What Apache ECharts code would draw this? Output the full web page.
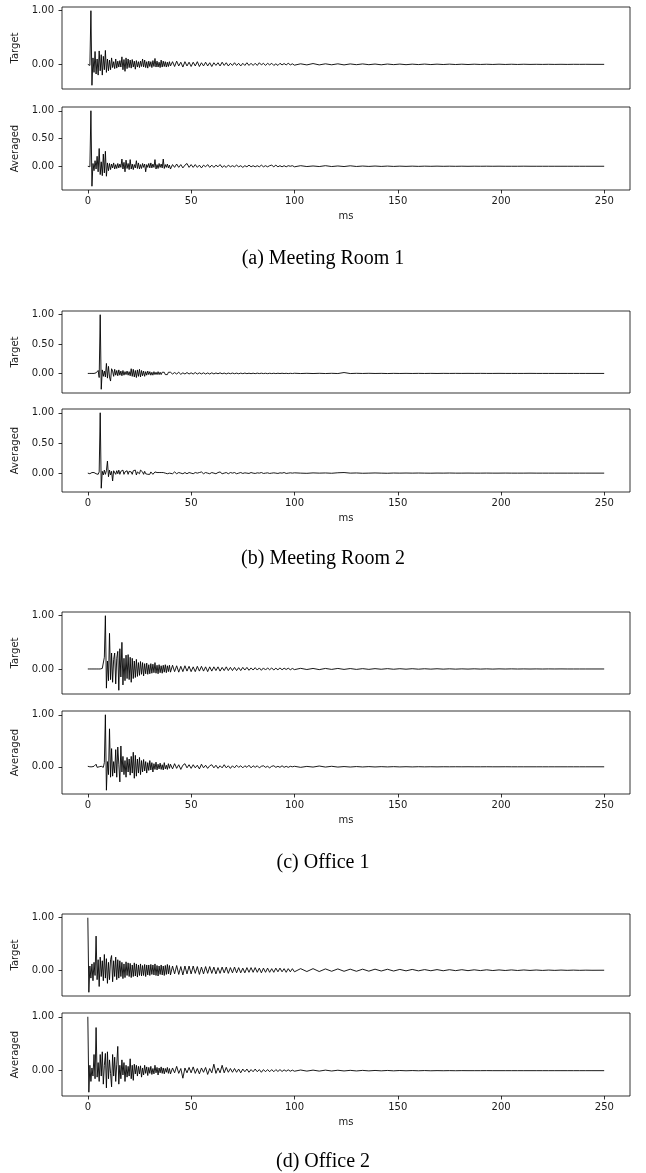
<!DOCTYPE html>
<html>
<head>
<meta charset="utf-8">
<script src="https://cdn.jsdelivr.net/npm/echarts@6/dist/echarts.min.js"></script>
<style>
  html, body { margin: 0; padding: 0; background: #fff; }
  #chart { width: 646px; height: 1173px; }
</style>
</head>
<body>
<div id="chart"></div>
<script>
// sample times (ms) - dense near the onset, sparse in the tail
const timeMs = [
  0, 0.5, 1, 1.5, 2, 2.5, 3, 3.5, 4, 4.5,
  5, 5.5, 6, 6.5, 7, 7.5, 8, 8.5, 9, 9.5,
  10, 10.5, 11, 11.5, 12, 12.5, 13, 13.5, 14, 14.5,
  15, 15.5, 16, 16.5, 17, 17.5, 18, 18.5, 19, 19.5,
  20, 20.5, 21, 21.5, 22, 22.5, 23, 23.5, 24, 24.5,
  25, 25.5, 26, 26.5, 27, 27.5, 28, 28.5, 29, 29.5,
  30, 30.5, 31, 31.5, 32, 32.5, 33, 33.5, 34, 34.5,
  35, 35.5, 36, 36.5, 37, 37.5, 38, 38.5, 39, 39.5,
  40, 41, 42, 43, 44, 45, 46, 47, 48, 49,
  50, 51, 52, 53, 54, 55, 56, 57, 58, 59,
  60, 61, 62, 63, 64, 65, 66, 67, 68, 69,
  70, 71, 72, 73, 74, 75, 76, 77, 78, 79,
  80, 81, 82, 83, 84, 85, 86, 87, 88, 89,
  90, 91, 92, 93, 94, 95, 96, 97, 98, 99,
  100, 103, 106, 109, 112, 115, 118, 121, 124, 127,
  130, 133, 136, 139, 142, 145, 148, 151, 154, 157,
  160, 163, 166, 169, 172, 175, 178, 181, 184, 187,
  190, 193, 196, 199, 202, 205, 208, 211, 214, 217,
  220, 223, 226, 229, 232, 235, 238, 241, 244, 249.9
];

const mr1Target = [
  0, 0.01, -0.02, 1.0, -0.39, 0.12, -0.15, 0.24, -0.18, 0.1,
  -0.2, 0.25, -0.12, 0.18, -0.2, 0.15, -0.1, 0.26, -0.15, 0.1,
  -0.12, 0.08, -0.1, 0.12, -0.06, 0.05, -0.08, 0.1, -0.07, 0.06,
  -0.05, 0.07, -0.05, 0.14, -0.1, 0.09, -0.13, 0.12, -0.08, 0.1,
  -0.06, 0.08, -0.07, 0.09, -0.05, 0.06, -0.09, 0.07, -0.05, 0.05,
  -0.06, 0.06, -0.04, 0.1, -0.05, 0.08, -0.06, 0.05, -0.07, 0.06,
  -0.04, 0.05, -0.06, 0.07, -0.04, 0.11, -0.05, 0.06, -0.05, 0.04,
  -0.06, 0.08, -0.05, 0.06, -0.04, 0.05, -0.05, 0.04, -0.04, 0.05,
  -0.03, 0.05, -0.04, 0.06, -0.03, 0.04, -0.05, 0.05, -0.03, 0.04,
  -0.04, 0.04, -0.03, 0.05, -0.04, 0.03, -0.03, 0.04, -0.03, 0.03,
  -0.04, 0.03, -0.02, 0.03, -0.03, 0.04, -0.02, 0.03, -0.03, 0.02,
  -0.02, 0.03, -0.02, 0.02, -0.03, 0.02, -0.02, 0.03, -0.02, 0.02,
  -0.02, 0.02, -0.02, 0.03, -0.01, 0.02, -0.02, 0.02, -0.01, 0.02,
  -0.02, 0.01, -0.02, 0.02, -0.01, 0.015, -0.01, 0.02, -0.01, 0.01,
  -0.015, 0.01, -0.01, 0.015, -0.01, 0.01, -0.008, 0.01, -0.01, 0.008,
  -0.006, 0.008, -0.006, 0.006, -0.008, 0.006, -0.005, 0.005, -0.006, 0.004,
  -0.004, 0.005, -0.004, 0.004, -0.003, 0.004, -0.003, 0.003, -0.003, 0.003,
  -0.002, 0.002, -0.002, 0.003, -0.002, 0.002, -0.002, 0.002, -0.001, 0.001,
  -0.001, 0.001, -0.001, 0.001, -0.001, 0.001, 0, 0.001, 0, 0
];

const mr1Averaged = [
  0, 0.02, -0.01, 1.0, -0.36, 0.05, -0.08, 0.1, -0.05, 0.18,
  -0.1, 0.32, -0.15, 0.08, -0.17, 0.22, -0.12, 0.27, -0.18, 0.06,
  -0.08, 0.05, -0.06, 0.04, -0.03, 0.06, -0.05, 0.03, -0.04, 0.05,
  -0.03, 0.04, -0.02, 0.13, -0.05, 0.07, -0.1, 0.11, -0.04, 0.05,
  -0.06, 0.12, -0.05, 0.04, -0.06, 0.03, -0.03, 0.1, -0.04, 0.06,
  -0.05, 0.03, -0.04, 0.05, -0.02, 0.04, -0.1, 0.03, -0.02, 0.05,
  -0.03, 0.06, -0.03, 0.04, -0.02, 0.12, -0.05, 0.03, -0.04, 0.05,
  -0.02, 0.04, -0.03, 0.13, -0.04, 0.03, -0.02, 0.04, -0.03, 0.02,
  -0.05, 0.03, -0.02, 0.04, -0.02, 0.03, -0.03, 0.02, 0.05, -0.02,
  0.03, -0.02, 0.03, -0.02, 0.02, -0.03, 0.02, -0.01, 0.03, -0.02,
  0.02, -0.02, 0.02, -0.01, 0.03, -0.02, 0.01, -0.02, 0.02, -0.01,
  0.01, -0.01, 0.02, -0.01, 0.01, -0.02, 0.01, -0.01, 0.02, -0.01,
  0.01, -0.01, 0.01, -0.01, 0.02, -0.01, 0.01, -0.01, 0.01, 0.02,
  -0.01, 0.02, -0.01, 0.01, -0.01, 0.01, -0.01, 0.01, 0, 0.01,
  -0.01, 0.01, -0.005, 0.005, -0.005, 0.01, -0.005, 0.005, -0.005, 0.008,
  -0.004, 0.004, -0.003, 0.004, -0.003, 0.003, -0.003, 0.002, -0.002, 0.002,
  -0.002, 0.002, -0.001, 0.002, -0.001, 0.001, -0.001, 0.001, -0.001, 0.001,
  0, 0.001, 0, 0.001, 0, 0, 0, 0.001, 0, 0,
  0, 0, 0, 0, 0, 0, 0, 0, 0, 0
];

const mr2Target = [
  0, 0, 0, 0, 0, 0, 0, 0, 0.01, -0.01,
  0.05, -0.07, 1.0, -0.27, 0.06, -0.05, 0.04, -0.06, 0.17, -0.08,
  0.12, -0.06, -0.13, 0.08, 0.04, -0.05, 0.07, -0.03, 0.05, -0.04,
  0.06, -0.03, 0.04, -0.04, 0.05, -0.03, 0.03, -0.02, 0.04, -0.03,
  0.03, -0.04, 0.08, -0.05, 0.07, -0.06, 0.05, -0.07, 0.06, -0.05,
  0.07, -0.06, 0.05, -0.04, 0.04, -0.05, 0.03, -0.03, 0.04, -0.02,
  0.03, -0.03, 0.02, -0.03, 0.03, -0.02, 0.02, -0.02, 0.03, -0.02,
  0.02, -0.02, 0.02, -0.01, 0.02, -0.02, 0.01, -0.02, 0.02, -0.01,
  0.02, -0.01, 0.015, -0.01, 0.02, -0.015, 0.01, -0.01, 0.015, -0.01,
  0.01, -0.01, 0.015, -0.01, 0.01, -0.008, 0.01, -0.01, 0.008, -0.01,
  0.01, -0.008, 0.008, -0.006, 0.01, -0.006, 0.006, -0.008, 0.006, -0.005,
  0.006, -0.005, 0.005, -0.006, 0.005, -0.004, 0.006, -0.004, 0.004, -0.004,
  0.004, -0.004, 0.005, -0.003, 0.004, -0.003, 0.003, -0.004, 0.003, -0.003,
  0.003, -0.003, 0.003, -0.002, 0.003, -0.002, 0.002, -0.003, 0.002, -0.002,
  0.003, -0.002, 0.002, -0.002, 0.002, -0.002, 0.002, -0.002, 0.015, -0.002,
  0.002, -0.001, 0.002, -0.001, 0.001, -0.002, 0.001, -0.001, 0.001, -0.001,
  0.001, -0.001, 0.001, -0.001, 0.001, 0, 0.001, 0, 0.001, 0,
  0.001, 0, 0, 0.001, 0, 0, 0, 0, 0.001, 0,
  0, 0, 0, 0, 0, 0, 0, 0, 0, 0
];

const mr2Averaged = [
  0, 0.01, -0.01, 0, 0.01, -0.005, 0.01, 0, -0.01, 0.01,
  -0.02, 0.02, 1.0, -0.25, 0.03, -0.03, 0.05, -0.02, 0.04, 0.2,
  -0.06, 0.05, -0.03, 0.03, -0.13, 0.04, 0.06, -0.02, 0.04, -0.01,
  0.05, -0.02, 0.03, 0.01, 0.05, -0.02, 0.02, -0.01, 0.04, -0.02,
  0.03, 0.01, 0.02, -0.02, 0.04, 0.01, 0.05, -0.03, 0.02, 0.04,
  -0.01, 0.05, 0.07, 0.02, -0.02, 0.03, -0.01, 0.02, -0.02, 0.01,
  -0.02, 0.02, 0.01, -0.02, 0.01, 0.02, -0.01, 0.01, -0.02, 0.01,
  0, 0.01, -0.01, 0.01, -0.01, 0, 0.01, -0.01, 0.01, 0,
  0.01, -0.01, 0.02, -0.01, 0.01, 0, -0.01, 0.01, -0.01, 0.01,
  0, -0.01, 0.01, 0, 0.01, 0.02, -0.01, 0.01, 0, -0.01,
  0.01, 0, -0.01, 0.01, 0.02, -0.01, 0, 0.01, -0.01, 0.01,
  0, 0.01, -0.01, 0, 0.01, -0.005, 0.005, 0, -0.005, 0.01,
  0, -0.005, 0.005, 0, 0.01, -0.005, 0, 0.005, -0.005, 0,
  0.005, 0, -0.005, 0.005, 0, 0.01, -0.005, 0, 0.005, 0,
  0.005, 0, -0.003, 0.004, 0, 0.003, -0.002, 0.006, 0.01, 0,
  0.003, -0.002, 0, 0.003, 0, -0.002, 0.002, 0, 0.002, 0,
  0.002, 0, -0.001, 0.001, 0, 0.002, 0, 0, 0.001, 0,
  0, 0.001, 0, 0, 0.001, 0, 0, 0, 0.001, 0,
  0, 0, 0, 0, 0, 0, 0, 0, 0, 0
];

const off1Target = [
  0, 0, 0, 0, 0, 0, 0, 0, 0, 0,
  0, 0, 0, 0, 0.01, -0.02, 0.22, 1.0, -0.36, 0.15,
  -0.22, 0.67, -0.2, 0.3, -0.25, 0.18, 0.3, -0.28, 0.2, 0.33,
  -0.4, 0.38, -0.15, 0.5, -0.3, 0.2, -0.22, 0.26, -0.18, 0.27,
  -0.2, 0.22, -0.25, 0.2, -0.18, 0.15, -0.16, 0.18, -0.14, 0.12,
  -0.12, 0.14, -0.1, 0.12, -0.13, 0.1, -0.09, 0.11, -0.1, 0.08,
  -0.09, 0.1, -0.08, 0.09, -0.07, 0.12, -0.08, 0.07, -0.09, 0.08,
  -0.07, 0.06, -0.08, 0.07, -0.06, 0.08, -0.07, 0.06, -0.05, 0.07,
  -0.06, 0.07, -0.05, 0.06, -0.06, 0.05, -0.05, 0.06, -0.04, 0.05,
  -0.05, 0.04, -0.05, 0.05, -0.04, 0.05, -0.04, 0.04, -0.05, 0.04,
  -0.04, 0.04, -0.03, 0.04, -0.04, 0.03, -0.03, 0.04, -0.03, 0.03,
  -0.03, 0.03, -0.03, 0.025, -0.03, 0.03, -0.02, 0.03, -0.025, 0.02,
  -0.02, 0.025, -0.02, 0.02, -0.025, 0.02, -0.02, 0.02, -0.015, 0.02,
  -0.02, 0.015, -0.015, 0.02, -0.015, 0.015, -0.01, 0.015, -0.015, 0.01,
  -0.012, 0.012, -0.01, 0.01, -0.012, 0.01, -0.008, 0.01, -0.008, 0.008,
  -0.008, 0.006, -0.007, 0.006, -0.005, 0.006, -0.005, 0.005, -0.004, 0.005,
  -0.004, 0.004, -0.003, 0.004, -0.003, 0.003, -0.003, 0.002, -0.002, 0.003,
  -0.002, 0.002, -0.002, 0.002, -0.001, 0.002, -0.001, 0.001, -0.001, 0.001,
  -0.001, 0.001, 0, 0.001, 0, 0, 0, 0, 0, 0
];

const off1Averaged = [
  0.01, -0.01, 0, 0.01, 0, -0.01, 0.01, 0, 0.05, -0.01,
  0.01, 0, -0.01, 0.01, 0.02, -0.01, 0.08, 1.0, -0.45, 0.1,
  -0.15, 0.73, -0.2, 0.35, -0.18, 0.1, -0.12, 0.33, -0.2, 0.38,
  0.05, -0.29, 0.4, -0.1, 0.2, -0.15, 0.12, -0.2, 0.18, -0.1,
  0.15, -0.16, 0.2, -0.12, 0.28, -0.22, 0.22, -0.18, 0.15, -0.12,
  0.18, -0.15, 0.12, -0.1, 0.14, -0.08, 0.1, -0.12, 0.08, -0.07,
  0.12, -0.06, 0.08, -0.1, 0.06, -0.05, 0.09, -0.06, 0.05, -0.04,
  0.07, -0.05, 0.04, -0.06, 0.08, -0.04, 0.03, -0.05, 0.06, -0.03,
  0.05, -0.04, 0.06, -0.03, 0.04, -0.05, 0.03, 0.06, -0.02, 0.04,
  -0.03, 0.04, -0.02, 0.03, -0.04, 0.05, -0.02, 0.03, -0.03, 0.02,
  0.04, -0.02, 0.03, -0.03, 0.02, -0.02, 0.04, -0.02, 0.02, -0.03,
  0.02, -0.02, 0.03, -0.01, 0.02, -0.02, 0.02, -0.01, 0.03, -0.02,
  0.02, -0.01, 0.02, -0.02, 0.01, 0.02, -0.01, 0.01, -0.02, 0.01,
  0.02, -0.01, 0.01, -0.01, 0.02, -0.01, 0.01, -0.01, 0.01, 0,
  0.01, -0.01, 0.008, -0.005, 0.015, -0.005, 0.01, -0.005, 0.005, -0.004,
  0.005, -0.003, 0.004, -0.003, 0.003, -0.002, 0.003, -0.002, 0.002, -0.002,
  0.002, -0.001, 0.001, -0.001, 0.001, 0, 0.001, 0, 0.001, 0,
  0, 0.001, 0, 0, 0.001, 0, 0, 0, 0, 0,
  0, 0, 0, 0, 0, 0, 0, 0, 0, 0
];

const off2Target = [
  1.0, -0.42, 0.08, -0.15, 0.12, -0.2, 0.15, -0.1, 0.65, -0.18,
  0.2, -0.31, 0.25, -0.12, 0.18, -0.2, 0.3, -0.15, 0.22, -0.25,
  0.15, -0.18, 0.2, 0.28, -0.22, 0.18, -0.12, 0.25, -0.18, 0.2,
  -0.15, 0.18, -0.12, 0.15, -0.16, 0.12, -0.14, 0.16, -0.1, 0.14,
  -0.12, 0.13, -0.14, 0.1, -0.12, 0.14, -0.11, 0.12, -0.13, 0.1,
  -0.1, 0.12, -0.11, 0.09, -0.1, 0.11, -0.12, 0.1, -0.09, 0.1,
  -0.1, 0.11, -0.08, 0.1, -0.09, 0.12, -0.1, 0.09, -0.11, 0.08,
  -0.08, 0.1, -0.09, 0.08, -0.1, 0.09, -0.08, 0.11, -0.07, 0.09,
  -0.09, 0.08, -0.07, 0.09, -0.08, 0.07, -0.09, 0.08, -0.07, 0.08,
  -0.07, 0.08, -0.06, 0.07, -0.08, 0.06, -0.07, 0.07, -0.06, 0.07,
  -0.06, 0.06, -0.07, 0.05, -0.06, 0.06, -0.05, 0.06, -0.06, 0.05,
  -0.05, 0.06, -0.05, 0.05, -0.05, 0.04, -0.05, 0.05, -0.04, 0.05,
  -0.04, 0.05, -0.04, 0.04, -0.05, 0.04, -0.04, 0.04, -0.04, 0.03,
  -0.04, 0.04, -0.03, 0.04, -0.03, 0.03, -0.04, 0.03, -0.03, 0.03,
  -0.03, 0.03, -0.025, 0.03, -0.025, 0.025, -0.02, 0.025, -0.02, 0.02,
  -0.02, 0.02, -0.018, 0.02, -0.015, 0.018, -0.015, 0.015, -0.012, 0.015,
  -0.012, 0.012, -0.01, 0.012, -0.01, 0.01, -0.008, 0.01, -0.008, 0.008,
  -0.007, 0.008, -0.006, 0.006, -0.005, 0.006, -0.005, 0.005, -0.004, 0.004,
  -0.004, 0.003, -0.003, 0.003, -0.002, 0.002, -0.002, 0.001, -0.001, 0
];

const off2Averaged = [
  1.0, -0.4, 0.1, -0.2, 0.05, -0.1, 0.3, -0.15, 0.8, -0.12,
  0.15, -0.2, 0.3, -0.1, 0.35, -0.25, 0.1, 0.32, -0.32, 0.35,
  -0.15, 0.2, -0.05, -0.3, 0.3, -0.1, 0.25, -0.2, 0.12, 0.45,
  -0.25, 0.1, -0.15, 0.2, -0.08, 0.15, -0.2, 0.1, -0.12, 0.08,
  -0.1, 0.22, -0.15, 0.1, -0.18, 0.12, -0.06, 0.1, -0.1, 0.08,
  -0.06, 0.09, -0.12, 0.05, -0.08, 0.1, -0.05, 0.07, -0.09, 0.06,
  -0.05, 0.08, -0.07, 0.04, -0.06, 0.1, -0.04, 0.06, -0.08, 0.05,
  -0.04, 0.07, -0.05, 0.05, -0.06, 0.04, -0.03, 0.06, -0.05, 0.04,
  -0.06, 0.05, -0.04, 0.08, -0.05, 0.04, -0.14, 0.05, -0.04, 0.06,
  -0.04, 0.07, -0.05, 0.04, -0.06, 0.05, -0.03, 0.06, -0.07, 0.04,
  -0.04, 0.12, -0.05, 0.05, -0.04, 0.1, -0.04, 0.06, -0.03, 0.04,
  -0.03, 0.04, -0.03, 0.03, -0.04, 0.03, -0.02, 0.03, -0.03, 0.02,
  -0.02, 0.03, -0.02, 0.02, -0.03, 0.02, -0.02, 0.02, -0.02, 0.02,
  -0.02, 0.02, -0.015, 0.02, -0.015, 0.015, -0.01, 0.015, -0.01, 0.01,
  -0.01, 0.012, -0.008, 0.01, -0.008, 0.01, -0.006, 0.008, -0.005, 0.006,
  -0.005, 0.005, -0.004, 0.004, -0.003, 0.004, -0.003, 0.003, -0.002, 0.002,
  -0.002, 0.002, -0.002, 0.001, -0.001, 0.001, -0.001, 0.001, 0, 0,
  0, 0.001, 0, 0, 0, 0, 0, 0, 0, 0,
  0, 0, 0, 0, 0, 0, 0, 0, 0, 0
];

const xTicks = [0, 50, 100, 150, 200, 250];
const captions = ['(a) Meeting Room 1', '(b) Meeting Room 2', '(c) Office 1', '(d) Office 2'];
const rowNames = ['Target', 'Averaged'];
const panelSeries = [
  [mr1Target, mr1Averaged],
  [mr2Target, mr2Averaged],
  [off1Target, off1Averaged],
  [off2Target, off2Averaged]
];
const panelYTicks = [
  [[0, 1], [0, 0.5, 1]],
  [[0, 0.5, 1], [0, 0.5, 1]],
  [[0, 1], [0, 1]],
  [[0, 1], [0, 1]]
];

// layout (px)
const panelTops = [[7, 107], [311, 409], [612, 711], [914, 1013]];
const captionTops = [249, 549, 853, 1152];
const boxHeight = [82, 83];

const chart = echarts.init(document.getElementById('chart'), null, { renderer: 'canvas' });

const textColor = '#1a1a1a';
const grids = [], xAxes = [], yAxes = [], series = [], titles = [];

const padMin = v => v.min - 0.05 * (v.max - v.min);
const padMax = v => v.max + 0.05 * (v.max - v.min);

panelSeries.forEach((pair, p) => {
    pair.forEach((vals, r) => {
        const idx = grids.length;
        const isBottom = r === 1;
        grids.push({
            left: 62,
            width: 568,
            top: panelTops[p][r],
            height: boxHeight[r],
            show: true,
            borderColor: '#000',
            borderWidth: 0.8,
            backgroundColor: 'transparent'
        });
        xAxes.push({
            gridIndex: idx,
            type: 'value',
            position: 'bottom',
            min: padMin,
            max: padMax,
            splitLine: { show: false },
            axisLine: { show: false, onZero: false },
            axisTick: {
                show: isBottom,
                length: 3.5,
                customValues: xTicks,
                lineStyle: { color: '#000', width: 0.8 }
            },
            axisLabel: {
                show: isBottom,
                customValues: xTicks,
                margin: 6,
                color: textColor,
                fontSize: 10,
                fontFamily: 'DejaVu Sans'
            },
            name: isBottom ? 'ms' : '',
            nameLocation: 'middle',
            nameGap: 21,
            nameTextStyle: { color: textColor, fontSize: 10, fontFamily: 'DejaVu Sans' }
        });
        yAxes.push({
            gridIndex: idx,
            type: 'value',
            position: 'left',
            min: padMin,
            max: padMax,
            splitLine: { show: false },
            axisLine: { show: false, onZero: false },
            axisTick: {
                show: true,
                length: 3.5,
                customValues: panelYTicks[p][r],
                lineStyle: { color: '#000', width: 0.8 }
            },
            axisLabel: {
                customValues: panelYTicks[p][r],
                formatter: v => v.toFixed(2),
                margin: 8,
                color: textColor,
                fontSize: 10,
                fontFamily: 'DejaVu Sans'
            },
            name: rowNames[r],
            nameLocation: 'middle',
            nameRotate: 90,
            nameGap: 32,
            nameTextStyle: { color: textColor, fontSize: 10, fontFamily: 'DejaVu Sans' }
        });
        series.push({
            type: 'line',
            xAxisIndex: idx,
            yAxisIndex: idx,
            data: timeMs.map((t, i) => [t, vals[i]]),
            showSymbol: false,
            symbol: 'none',
            lineStyle: { color: '#000', width: 0.9 },
            clip: true
        });
    });
    titles.push({
        text: captions[p],
        left: 'center',
        top: captionTops[p],
        padding: 0,
        textStyle: {
            fontFamily: 'Liberation Serif',
            fontWeight: 'normal',
            fontSize: 20,
            color: '#000'
        }
    });
});

chart.setOption({
    animation: false,
    backgroundColor: '#fff',
    title: titles,
    grid: grids,
    xAxis: xAxes,
    yAxis: yAxes,
    series: series
});
</script>
</body>
</html>
